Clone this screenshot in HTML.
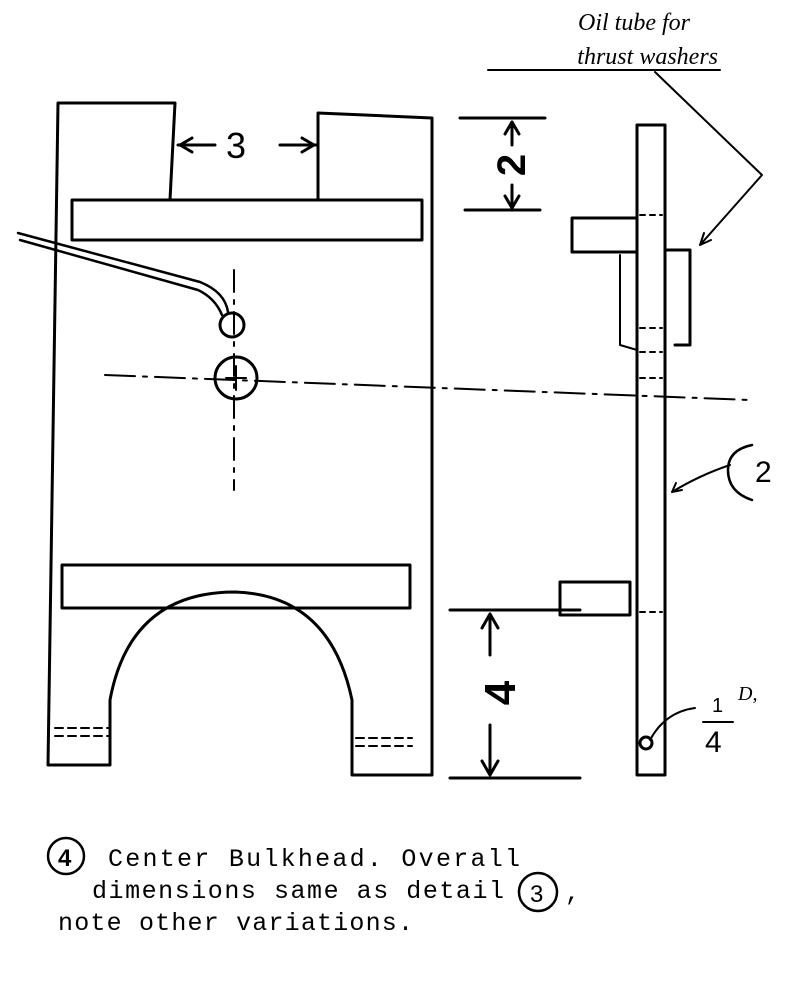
<!DOCTYPE html>
<html><head><meta charset="utf-8"><style>
html,body{margin:0;padding:0;background:#fff;}
svg{display:block;}
</style></head><body>
<svg width="809" height="995" viewBox="0 0 809 995" xmlns="http://www.w3.org/2000/svg" fill="none" stroke="#000" stroke-width="3" stroke-linecap="round" stroke-linejoin="round">
<!-- main outline -->
<path d="M58,103 L175,103 L170,200 M318,200 L318,113 L432,118 L432,775 L352,775 L352,700 Q330,595 235,592 Q130,592 110,700 L110,765 L48,765 L58,103"/>
<!-- bars -->
<rect x="72" y="200" width="350" height="40"/>
<rect x="62" y="565" width="348" height="43"/>
<!-- foot dashes -->
<path d="M55,728 H108 M55,736 H108 M356,738 H412 M356,746 H412" stroke-width="2" stroke-dasharray="8,5"/>
<!-- dim 3 -->
<path d="M178,145 H215 M180,145 l12,-7 M180,145 l12,7 M280,145 H316 M314,145 l-12,-7 M314,145 l-12,7"/>
<text x="226" y="158" font-family="Liberation Sans, sans-serif" font-size="36" fill="#000" stroke="none">3</text>
<!-- dim 2 -->
<path d="M460,118 H545 M465,210 H540 M512,122 V145 M512,122 l-7,12 M512,122 l7,12 M512,185 V208 M512,208 l-7,-12 M512,208 l7,-12"/>
<text x="0" y="0" transform="translate(525,165) rotate(-90)" font-family="Liberation Sans, sans-serif" font-size="40" font-weight="bold" fill="#000" stroke="none" text-anchor="middle">2</text>
<!-- dim 4 -->
<path d="M450,610 H580 M450,778 H580 M490,614 V655 M490,614 l-8,14 M490,614 l8,14 M490,725 V775 M490,775 l-8,-14 M490,775 l8,-14"/>
<text x="0" y="0" transform="translate(515,693) rotate(-90)" font-family="Liberation Sans, sans-serif" font-size="44" font-weight="bold" fill="#000" stroke="none" text-anchor="middle">4</text>
<!-- centerline -->
<path d="M105,375 L750,400" stroke-width="2" stroke-dasharray="30,8,4,8"/>
<path d="M234,270 V490" stroke-width="2" stroke-dasharray="22,8,4,8"/>
<!-- circles -->
<circle cx="232" cy="325" r="12"/>
<circle cx="236" cy="378" r="21"/>
<path d="M236,366 V390 M226,378 H246" stroke-width="2"/>
<!-- oil tube -->
<path d="M18,233 L200,282 Q225,292 228,312 M20,240 L198,290 Q215,298 222,315" stroke-width="2.5"/>
<!-- side view -->
<rect x="637" y="125" width="28" height="650"/>
<rect x="572" y="218" width="65" height="34"/>
<rect x="560" y="582" width="70" height="33"/>
<path d="M665,250 H690 V345 H675"/>
<path d="M620,255 V345 L637,350" stroke-width="2"/>
<path d="M640,215 H662 M640,328 H662 M640,352 H662 M640,378 H662 M640,612 H662" stroke-width="2" stroke-dasharray="5,5"/>
<circle cx="646" cy="743" r="6"/>
<!-- leader lines -->
<path d="M488,70 H720 M655,72 L762,175 L700,245 M700,245 l4,-12 M700,245 l11,-5" stroke-width="2"/>
<path d="M730,465 Q700,475 672,492 M672,492 l10,-2 M672,492 l4,-9" stroke-width="2"/>
<path d="M650,740 Q665,712 695,708" stroke-width="2"/>
<path d="M752,445 Q728,450 728,470 Q728,492 752,500" stroke-width="2.5"/>
<text x="755" y="482" font-family="Liberation Sans, sans-serif" font-size="30" fill="#000" stroke="none">2</text>
<text x="690" y="30" font-family="Liberation Serif, serif" font-style="italic" font-size="24" fill="#000" stroke="none" text-anchor="end">Oil tube for</text>
<text x="718" y="64" font-family="Liberation Serif, serif" font-style="italic" font-size="24" fill="#000" stroke="none" text-anchor="end">thrust washers</text>
<text x="712" y="712" font-family="Liberation Sans, sans-serif" font-size="20" fill="#000" stroke="none">1</text>
<path d="M703,722 H733" stroke-width="2"/>
<text x="705" y="752" font-family="Liberation Sans, sans-serif" font-size="30" fill="#000" stroke="none">4</text>
<text x="738" y="700" font-family="Liberation Serif, serif" font-style="italic" font-size="20" fill="#000" stroke="none">D,</text>
<!-- caption -->
<circle cx="66" cy="856" r="18" stroke-width="2.5"/>
<text x="58" y="866" font-family="Liberation Sans, sans-serif" font-size="24" font-weight="bold" fill="#000" stroke="none">4</text>
<circle cx="538" cy="892" r="19" stroke-width="2.5"/>
<text x="530" y="902" font-family="Liberation Sans, sans-serif" font-size="24" fill="#000" stroke="none">3</text>
<g font-family="Liberation Mono, monospace" font-size="25" fill="#000" stroke="none">
<text x="108" y="866" textLength="412" lengthAdjust="spacing">Center Bulkhead.  Overall</text>
<text x="92" y="898" textLength="412" lengthAdjust="spacing">dimensions same as detail</text>
<text x="565" y="900">,</text>
<text x="58" y="930" textLength="355" lengthAdjust="spacing">note other variations.</text>
</g>
</svg>
</body></html>
